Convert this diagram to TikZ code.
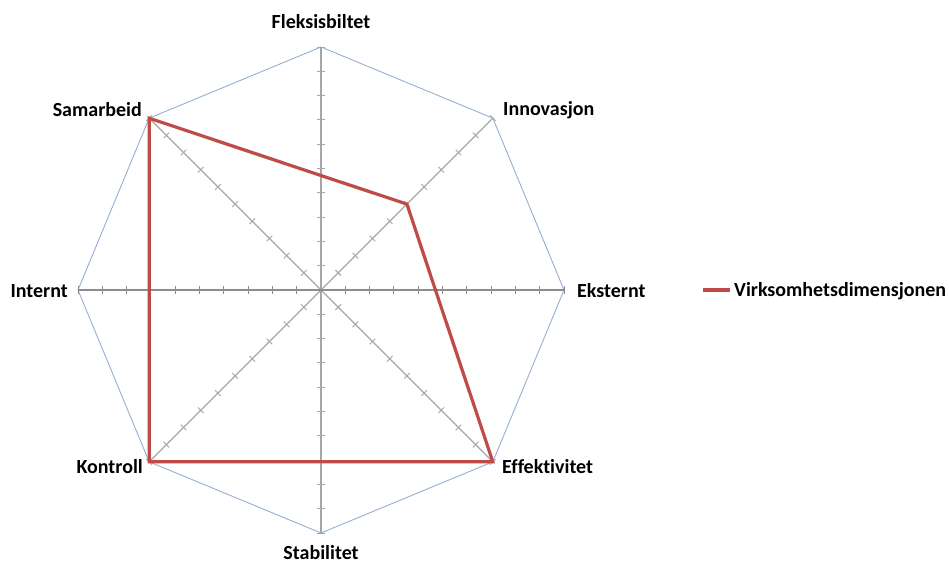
\documentclass[tikz,border=0pt]{standalone}
\usepackage{fontspec}
\setmainfont{Carlito}[Ligatures=NoCommon]
\usetikzlibrary{calc}
\begin{document}
\begin{tikzpicture}[x=1pt,y=1pt,
  axislabel/.style={font=\bfseries\fontsize{20}{22}\selectfont, text=black, inner sep=0pt},
  axisline/.style={draw=axisgray, line width=1.4pt},
  tickline/.style={draw=axisgray, line width=0.9pt},
  rim/.style={draw=rimblue, line width=0.9pt},
  series/.style={draw=seriesred, line width=3.2pt, line join=miter},
]
\definecolor{axisgray}{HTML}{A6A6A6}
\definecolor{axisdark}{HTML}{8C8C8C}
\definecolor{rimblue}{HTML}{95AED6}
\definecolor{seriesred}{HTML}{BE4B48}
\useasboundingbox (0,0) rectangle (949,565);
\fill[white] (0,0) rectangle (949,565);

% centre and radius of the radar chart
\coordinate (c) at (321,275);
\def\R{243}

% outer octagon
\foreach \k in {0,...,7}{
  \coordinate (v\k) at ($(c)+({90-45*\k}:\R)$);
}
\draw[rim] (v0) -- (v1) -- (v2) -- (v3) -- (v4) -- (v5) -- (v6) -- (v7) -- cycle;

% spokes with unit ticks
\foreach \k in {0,1,3,4,5,7}{
  \draw[axisline] (c) -- (v\k);
  \begin{scope}[shift={(c)}, rotate={90-45*\k}]
    \foreach \i in {1,...,10}
      \draw[tickline] ({\i*\R/10},-4) -- ({\i*\R/10},4);
  \end{scope}
}
\foreach \k in {2,6}{
  \draw[axisline, draw=axisdark] (c) -- (v\k);
  \begin{scope}[shift={(c)}, rotate={90-45*\k}]
    \foreach \i in {1,...,10}
      \draw[tickline, draw=axisdark] ({\i*\R/10},-4) -- ({\i*\R/10},4);
  \end{scope}
}

% axis labels
\node[axislabel, anchor=center] (fleks) at (321,543) {Fleksisbiltet};
\node[axislabel, anchor=west]  (innov) at (503,455) {Innovasjon};
\node[axislabel, anchor=west]  (ekst)  at (577,274) {Eksternt};
\node[axislabel, anchor=west]  (effek) at (502,98)  {Effektivitet};
\node[axislabel, anchor=center] (stab) at (321,12)  {Stabilitet};
\node[axislabel, anchor=east]  (kontr) at (143,98)  {Kontroll};
\node[axislabel, anchor=east]  (intern) at (68,274) {Internt};
\node[axislabel, anchor=east]  (samar) at (142,455) {Samarbeid};

% data series
\coordinate (d0) at ($(c)+(90:{4.71*\R/10})$);
\coordinate (d1) at ($(c)+(45:{5*\R/10})$);
\coordinate (d2) at ($(c)+(0:{4.71*\R/10})$);
\coordinate (d3) at ($(c)+(-45:{10*\R/10})$);
\coordinate (d4) at ($(c)+(-90:{7.07*\R/10})$);
\coordinate (d5) at ($(c)+(-135:{10*\R/10})$);
\coordinate (d6) at ($(c)+(180:{7.07*\R/10})$);
\coordinate (d7) at ($(c)+(135:{10*\R/10})$);
\draw[series] (d0) -- (d1) -- (d2) -- (d3) -- (d4) -- (d5) -- (d6) -- (d7) -- cycle;

% legend
\coordinate (legA) at (703,275);
\coordinate (legB) at (730,275);
\draw[series] (legA) -- (legB);
\node[axislabel, anchor=west] (legtext) at (734,274) {Virksomhetsdimensjonen};
\end{tikzpicture}
\end{document}
